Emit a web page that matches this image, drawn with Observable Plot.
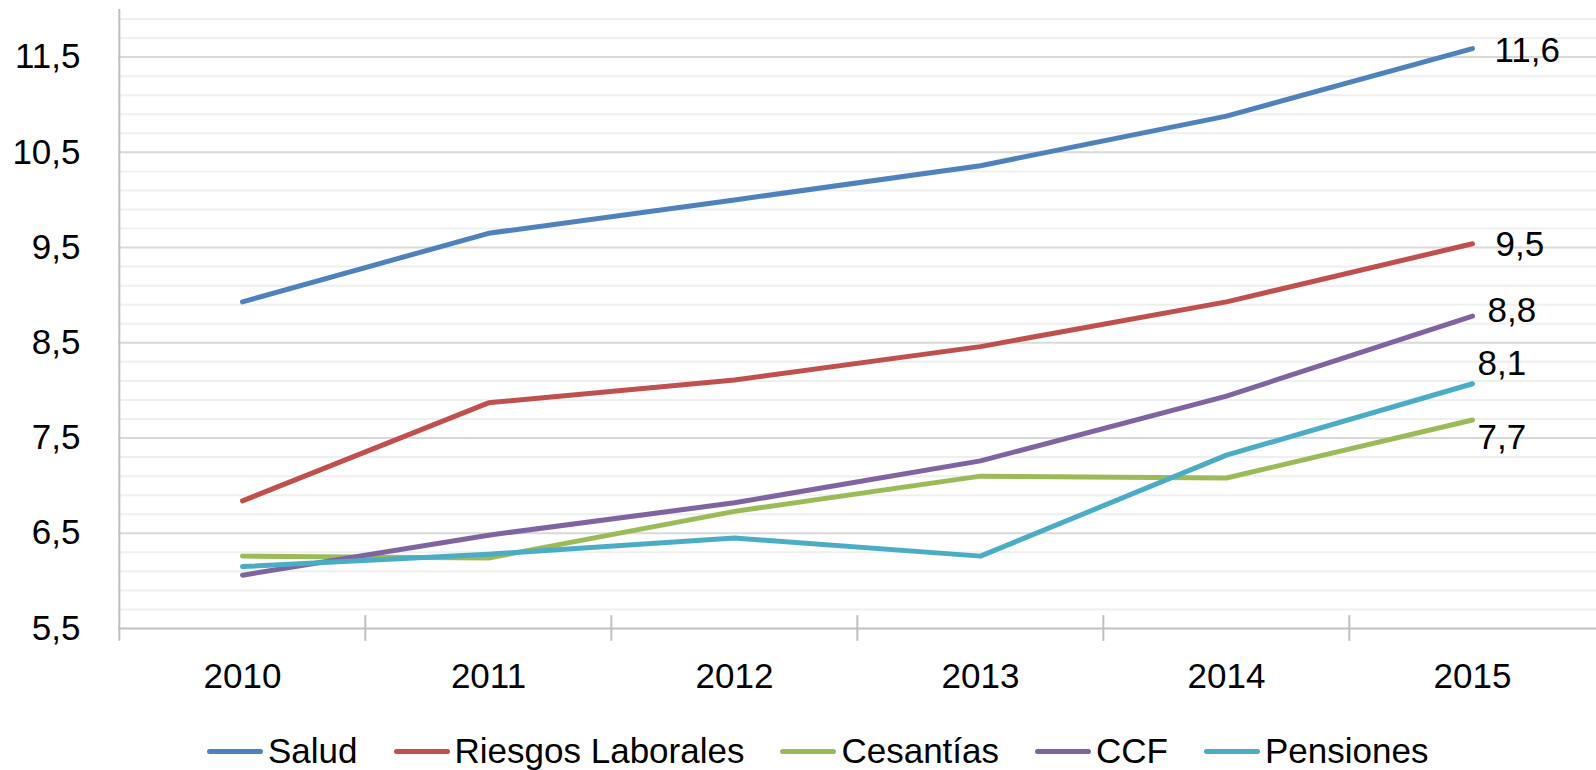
<!DOCTYPE html>
<html>
<head>
<meta charset="utf-8">
<script src="https://cdn.jsdelivr.net/npm/d3@7"></script>
<script src="https://cdn.jsdelivr.net/npm/@observablehq/plot@0.6"></script>
<style>
  html, body { margin: 0; padding: 0; background: #fff; }
  body { width: 1596px; height: 770px; overflow: hidden; font-family: "Liberation Sans", Arial, sans-serif; }
  #legend { display: flex; align-items: center; height: 40px; margin-top: 26px; padding-left: 207px; font-size: 35px; line-height: 40px; color: #000; }
  .item { display: flex; align-items: center; margin-right: 36px; }
  .sw { width: 56px; height: 5px; border-radius: 3px; margin-right: 5px; }
</style>
</head>
<body>
<div id="chart"></div>
<div id="legend"></div>
<script>
// ---- data ----
const years = ["2010", "2011", "2012", "2013", "2014", "2015"];
const seriesNames = ["Salud", "Riesgos Laborales", "Cesantías", "CCF", "Pensiones"];
const salud     = [8.93, 9.65, 10.0, 10.36, 10.88, 11.59];
const riesgos   = [6.84, 7.87, 8.11, 8.46, 8.93, 9.54];
const cesantias = [6.26, 6.24, 6.73, 7.10, 7.08, 7.69];
const ccf       = [6.06, 6.48, 6.82, 7.26, 7.94, 8.78];
const pensiones = [6.15, 6.28, 6.45, 6.26, 7.32, 8.07];
const yTicks = [5.5, 6.5, 7.5, 8.5, 9.5, 10.5, 11.5];

// ---- styling config ----
const colors = ["#4f81bd", "#c0504d", "#9bbb59", "#8064a2", "#4bacc6"];
const labelNudge = {
  "Salud": [22, 2],
  "Riesgos Laborales": [23, 1],
  "Cesantías": [5, 18],
  "CCF": [15, -5],
  "Pensiones": [5, -20]
};

const allValues = [salud, riesgos, cesantias, ccf, pensiones];
const data = [];
seriesNames.forEach((s, i) => years.forEach((y, j) => data.push({series: s, year: y, value: allValues[i][j]})));
const last = data.filter(d => d.year === years[years.length - 1]);

const fmt = d => d.toFixed(1).replace(".", ",");
const W = 1596, H = 705, ML = 118, MR = 0, MT = 9, MB = 77;
const step = (W - ML - MR) / years.length;
const minor = d3.range(0, 33).map(k => +(5.5 + k * 0.2).toFixed(1)).filter(v => !yTicks.includes(v) && v <= 12);

const labelMarks = last.map(d => Plot.text([d], {
  x: "year", y: "value", text: dd => fmt(dd.value), textAnchor: "start",
  dx: labelNudge[d.series][0], dy: labelNudge[d.series][1], fontSize: 35, fill: "#000"
}));

const chart = Plot.plot({
  width: W, height: H,
  marginLeft: ML, marginRight: MR, marginTop: MT, marginBottom: MB,
  style: {fontFamily: "Liberation Sans, Arial, sans-serif", fontSize: "35px", color: "#000", background: "#fff"},
  x: {type: "point", domain: years, padding: 0.5},
  y: {domain: [5.5, 12]},
  color: {domain: seriesNames, range: colors},
  marks: [
    Plot.ruleY(minor, {stroke: "#efefef", strokeWidth: 2}),
    Plot.ruleY(yTicks.slice(1), {stroke: "#d9d9d9", strokeWidth: 2}),
    Plot.ruleY([5.5], {stroke: "#bfbfbf", strokeWidth: 2}),
    Plot.ruleX(years.slice(1), {x: d => d, y1: 5.365, y2: 5.635, dx: -step / 2, stroke: "#bfbfbf", strokeWidth: 2}),
    Plot.ruleX([years[0]], {x: d => d, y1: 5.365, y2: 12, dx: -step / 2, stroke: "#bfbfbf", strokeWidth: 2}),
    Plot.axisY({ticks: yTicks, tickFormat: fmt, tickSize: 0, tickPadding: 38, label: null, fontSize: 35}),
    Plot.axisX({tickSize: 0, tickPadding: 35, label: null, fontSize: 35}),
    Plot.line(data, {x: "year", y: "value", z: "series", stroke: "series", strokeWidth: 5, strokeLinecap: "round", strokeLinejoin: "round"}),
    ...labelMarks
  ]
});
document.getElementById("chart").appendChild(chart);

const legend = document.getElementById("legend");
seriesNames.forEach((s, i) => {
  const it = document.createElement("div");
  it.className = "item";
  const sw = document.createElement("span");
  sw.className = "sw";
  sw.style.background = colors[i];
  const t = document.createElement("span");
  t.textContent = s;
  it.appendChild(sw); it.appendChild(t);
  legend.appendChild(it);
});
</script>
</body>
</html>
